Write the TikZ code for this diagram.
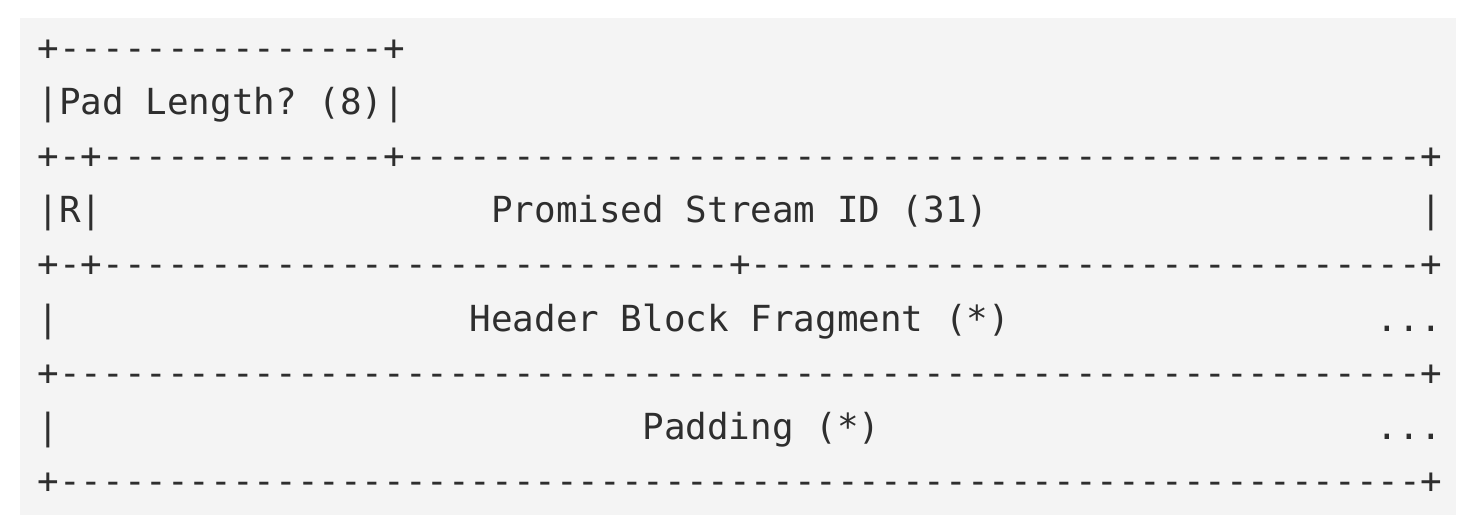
\documentclass[tikz,border=0pt]{standalone}
\usepackage{fontspec}
\setmonofont{DejaVu Sans Mono}
\definecolor{bg}{HTML}{F4F4F4}
\definecolor{ink}{HTML}{2E2E2E}
\newcommand\cx[1]{\fpeval{37.5+21.6*#1}pt}
\newcommand\ly[1]{\fpeval{-(60.5+54.1*#1)}pt}
\tikzset{ascii/.style={anchor=base west,inner sep=0pt,font=\ttfamily\fontsize{35.9}{40}\selectfont,text=ink}}
\begin{document}
\begin{tikzpicture}
\useasboundingbox (0,0) rectangle (1478pt,-531pt);
\fill[bg] (20pt,-18pt) rectangle (1456pt,-515pt);
% line 0
\node[ascii] (l0) at (\cx{0},\ly{0}) {+---------------+};
% line 1
\node[ascii] (l1) at (\cx{0},\ly{1}) {|Pad Length? (8)|};
% line 2
\node[ascii] (l2) at (\cx{0},\ly{2}) {+-+-------------+-----------------------------------------------+};
% line 3
\node[ascii] (l3a) at (\cx{0},\ly{3}) {|R|};
\node[ascii] (l3b) at (\cx{21},\ly{3}) {Promised Stream ID (31)};
\node[ascii] (l3c) at (\cx{64},\ly{3}) {|};
% line 4
\node[ascii] (l4) at (\cx{0},\ly{4}) {+-+-----------------------------+-------------------------------+};
% line 5
\node[ascii] (l5a) at (\cx{0},\ly{5}) {|};
\node[ascii] (l5b) at (\cx{20},\ly{5}) {Header Block Fragment (*)};
\node[ascii] (l5c) at (\cx{62},\ly{5}) {...};
% line 6
\node[ascii] (l6) at (\cx{0},\ly{6}) {+---------------------------------------------------------------+};
% line 7
\node[ascii] (l7a) at (\cx{0},\ly{7}) {|};
\node[ascii] (l7b) at (\cx{28},\ly{7}) {Padding (*)};
\node[ascii] (l7c) at (\cx{62},\ly{7}) {...};
% line 8
\node[ascii] (l8) at (\cx{0},\ly{8}) {+---------------------------------------------------------------+};
\end{tikzpicture}
\end{document}
